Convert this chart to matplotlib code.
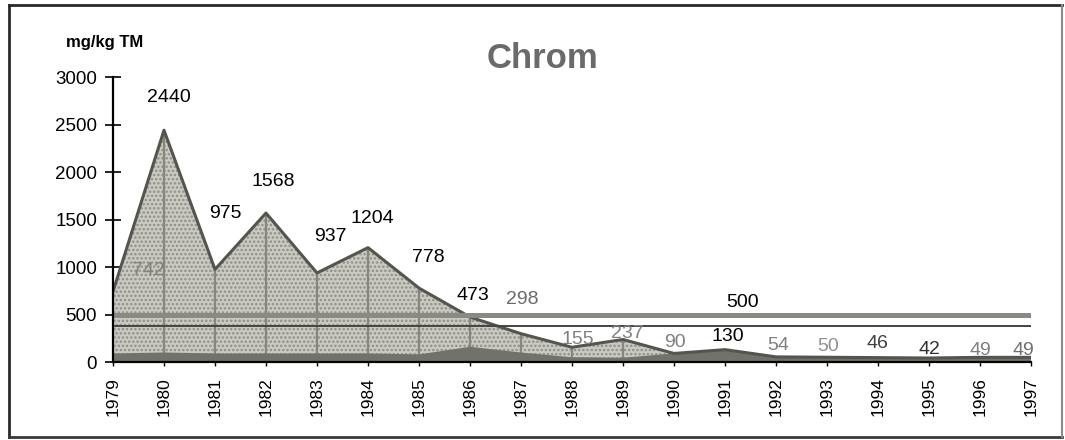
import matplotlib
matplotlib.use("Agg")
import matplotlib.pyplot as plt
from matplotlib.lines import Line2D

plt.rcParams['font.family'] = ['Liberation Sans', 'DejaVu Sans']
plt.rcParams['hatch.linewidth'] = 1.2

# ---- data ----
years = [1979, 1980, 1981, 1982, 1983, 1984, 1985, 1986, 1987, 1988,
         1989, 1990, 1991, 1992, 1993, 1994, 1995, 1996, 1997]
chrom = [742, 2440, 975, 1568, 937, 1204, 778, 473, 298, 155,
         237, 90, 130, 54, 50, 46, 42, 49, 49]
base = [90, 100, 90, 90, 90, 90, 80, 160, 100, 50,
        45, 90, 130, 54, 50, 46, 42, 49, 49]
limit_value = 500
second_line = 380
yticks = [0, 500, 1000, 1500, 2000, 2500, 3000]
title = "Chrom"
unit = "mg/kg TM"

# label placement (pixel offsets) and colours -- styling only
lab_dx = [35, 5, 10, 7, 13, 4, 9, 3, 1, 6, 4, 1, 3, 2, 1, -1, 0, 0, -8]
lab_dy = [21, 33, 56, 32, 36, 29, 31, 22, 34, 8, 6, 11, 13, 11, 11, 14, 9, 7, 7]
lab_col = ['#808080', 'black', 'black', 'black', 'black', 'black', 'black', 'black',
           '#6a6a6a', '#808080', '#808080', '#808080', 'black', '#808080', '#909090',
           '#404040', '#303030', '#808080', '#707070']

W, H = 1065, 440
fig = plt.figure(figsize=(W / 100, H / 100), dpi=100)
ax = fig.add_axes([113 / W, 1 - 362 / H, (1031 - 113) / W, (362 - 77) / H])

# light stippled main area
ax.fill_between(years, 0, chrom, facecolor='#cacac2', edgecolor='#8e8e86',
                hatch='....', linewidth=0, zorder=1)
# vertical drop lines at each year
ax.vlines(years[1:-1], 0, chrom[1:-1], colors='#86867e', linewidth=1.6, zorder=2)
# dark base area
ax.fill_between(years, 0, base, facecolor='#72726a', linewidth=0, zorder=3)
# outline of main area
ax.plot(years, chrom, color='#55554f', linewidth=2.2, zorder=4)

# reference lines
ax.axhline(limit_value, color='#8a8a82', linewidth=3.6, zorder=5)
ax.axhline(second_line, color='#444444', linewidth=1.4, zorder=5)
ax.text(1991.35, limit_value + 130, str(limit_value), fontsize=14, ha='center',
        va='center', color='black', zorder=6)

for x, v, dx, dy, c in zip(years, chrom, lab_dx, lab_dy, lab_col):
    ax.annotate(str(v), (x, v), xytext=(dx, dy), textcoords='offset pixels',
                ha='center', va='center', fontsize=14, color=c, zorder=6)

ax.set_xlim(years[0], years[-1])
ax.set_ylim(0, 3000)
ax.set_yticks(yticks)
ax.set_xticks(years)
ax.set_xticklabels([str(y) for y in years], rotation=90, fontsize=12.5)
ax.tick_params(axis='y', direction='inout', length=11, width=1.2, labelsize=13.5, pad=6)
ax.tick_params(axis='x', direction='out', length=3, width=1, pad=8)
for s in ['top', 'right']:
    ax.spines[s].set_visible(False)
ax.spines['left'].set_linewidth(1.6)
ax.spines['bottom'].set_linewidth(1.6)
ax.spines['left'].set_zorder(7)
ax.spines['bottom'].set_zorder(7)

fig.text(543 / W, 1 - 59 / H, title, fontsize=25, fontweight='bold',
         color='#6a6a6a', ha='center', va='center')
fig.text(105 / W, 1 - 42 / H, unit, fontsize=12, fontweight='bold',
         color='black', ha='center', va='center')

# outer frame
def fl(x0, y0, x1, y1, c='#2a2a2a', lw=2):
    fig.add_artist(Line2D([x0 / W, x1 / W], [1 - y0 / H, 1 - y1 / H],
                          color=c, linewidth=lw))
fl(9, 5, 1062, 5)
fl(9, 5, 9, 437)
fl(9, 437, 1062, 437, c='#3a3a3a')
fl(1062, 5, 1062, 437, c='#8a8a8a', lw=1.5)

fig.savefig("out.png", dpi=100)
